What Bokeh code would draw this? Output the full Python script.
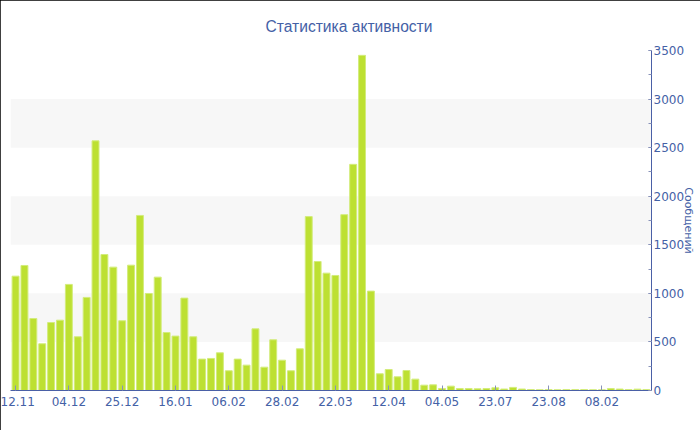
from bokeh.plotting import figure
from bokeh.models import Range1d, FixedTicker, SingleIntervalTicker, ColumnDataSource
from bokeh.embed import file_html
from bokeh.resources import INLINE

# ---- data ----
messages = [1177, 1287, 741, 481, 700, 724, 1092, 553, 958, 2570,
            1400, 1270, 718, 1290, 1802, 999, 1167, 597, 560, 951,
            553, 323, 330, 388, 203, 323, 261, 635, 240, 522,
            312, 203, 429, 1790, 1328, 1208, 1184, 1810, 2328, 3450,
            1023, 172, 216, 141, 206, 117, 55, 58, 21, 45,
            20, 20, 18, 20, 28, 15, 32, 15, 10, 8,
            10, 8, 10, 10, 10, 8, 8, 20, 15, 10,
            14, 10]
tick_labels = ["12.11", "04.12", "25.12", "16.01", "06.02", "28.02",
               "22.03", "12.04", "04.05", "23.07", "23.08", "08.02"]
label_every = 6
title_text = "Статистика активности"
y_title = "Сообщений"
y_max = 3500
y_step = 500

BLUE = "#4461a6"
AXIS = "#4a60a6"
BAR = "#bde032"
BAR_EDGE = "#d3ec7c"

n = len(messages)
src = ColumnDataSource(dict(x=list(range(n)), top=messages))

p = figure(width=700, height=430, output_backend="svg", toolbar_location=None,
           y_axis_location="right", title=title_text,
           x_range=Range1d(-0.57, n - 1 + 0.58), y_range=Range1d(0, y_max),
           min_border_left=10, min_border_right=49, min_border_top=50,
           min_border_bottom=40)
p.outline_line_color = None
p.background_fill_color = "white"
p.border_fill_color = "white"
p.styles = {"outline": "1px solid black", "outline-offset": "-1px"}

p.title.align = "left"
p.title.vertical_align = "middle"
p.title.offset = 255
p.title.text_font = "Liberation Sans"
p.title.text_font_size = "15.6px"
p.title.text_font_style = "normal"
p.title.text_color = BLUE
p.title.standoff = 30

p.vbar(x="x", top="top", width=0.78, source=src,
       fill_color=BAR, line_color=BAR_EDGE, line_width=1)

# x axis
xt = [i * label_every for i in range(len(tick_labels))]
p.xaxis.ticker = FixedTicker(ticks=xt)
p.xaxis.major_label_overrides = {t: lab for t, lab in zip(xt, tick_labels)}
p.xaxis.axis_line_color = AXIS
p.xaxis.major_tick_line_color = "#8892b8"
p.xaxis.major_tick_in = 5
p.xaxis.major_tick_out = 0
p.xaxis.minor_tick_line_color = None
p.xaxis.major_label_text_color = BLUE
p.xaxis.major_label_text_font = "DejaVu Sans"
p.xaxis.major_label_text_font_size = "12px"
p.xaxis.major_label_standoff = 6

# y axis (right)
yt = SingleIntervalTicker(interval=y_step, num_minor_ticks=2)
p.yaxis.ticker = yt
p.yaxis.axis_line_color = AXIS
p.yaxis.major_tick_line_color = "#8892b8"
p.yaxis.minor_tick_line_color = "#8892b8"
p.yaxis.major_tick_in = 3
p.yaxis.major_tick_out = 0
p.yaxis.minor_tick_in = 3
p.yaxis.minor_tick_out = 0
p.yaxis.major_label_text_color = BLUE
p.yaxis.major_label_text_font = "DejaVu Sans"
p.yaxis.major_label_text_font_size = "12px"
p.yaxis.major_label_standoff = 2
p.yaxis.axis_label = y_title
p.yaxis.axis_label_standoff = -5
p.yaxis.axis_label_text_color = BLUE
p.yaxis.axis_label_text_font = "DejaVu Sans"
p.yaxis.axis_label_text_font_size = "11px"
p.yaxis.axis_label_text_font_style = "normal"

# grid bands
p.xgrid.visible = False
p.ygrid.ticker = yt
p.ygrid.grid_line_color = None
p.ygrid.band_fill_color = "#f7f7f7"
p.ygrid.band_fill_alpha = 1.0

open("out.html", "w").write(file_html(p, INLINE))
